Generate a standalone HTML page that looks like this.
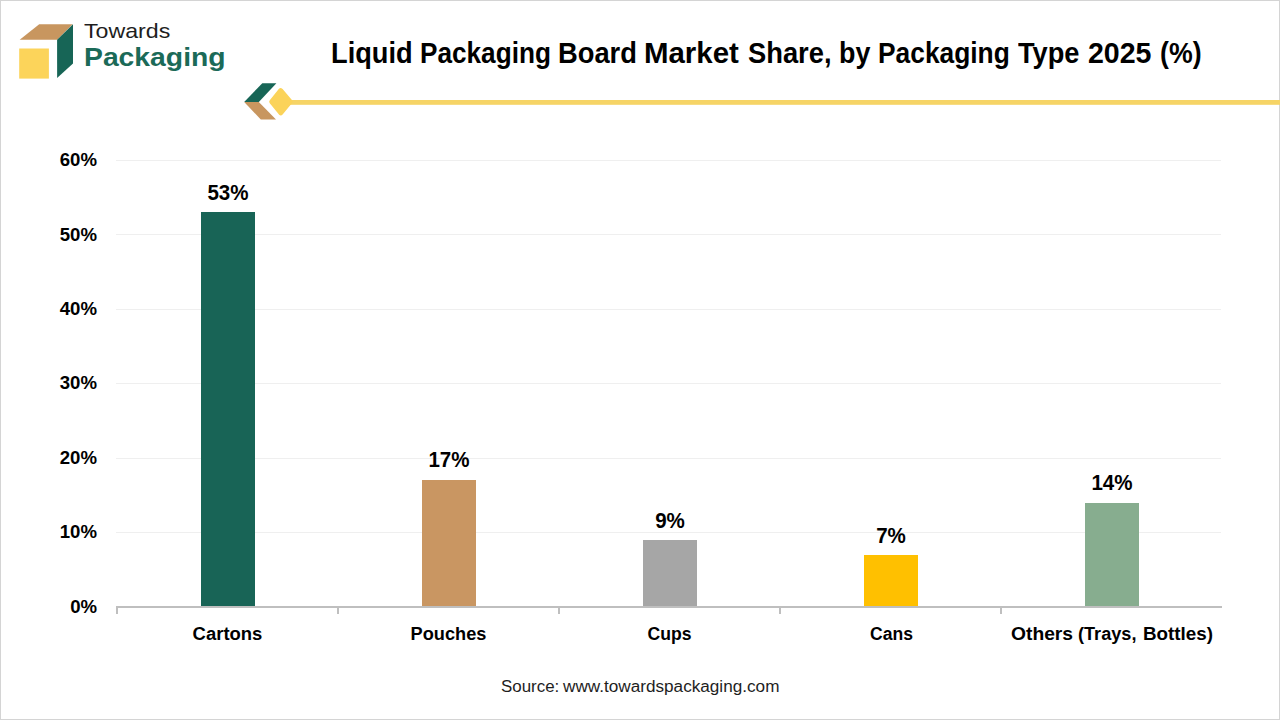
<!DOCTYPE html>
<html>
<head>
<meta charset="utf-8">
<style>
html,body{margin:0;padding:0;background:#fff;}
body{width:1280px;height:720px;position:relative;overflow:hidden;font-family:"Liberation Sans",sans-serif;}
.frame{position:absolute;left:0;top:0;width:1280px;height:720px;box-sizing:border-box;border:1px solid #d4d4d4;}
.t{position:absolute;white-space:nowrap;line-height:1;}
.grid{position:absolute;left:116px;width:1105px;height:1px;background:#efefef;}
.bar{position:absolute;width:54px;bottom:114px;}
.tick{position:absolute;top:608px;width:2px;height:6px;background:#bfbfbf;}
.yl{position:absolute;right:1183px;font-weight:bold;font-size:18.6px;line-height:1;color:#000;}
.dl{position:absolute;font-weight:bold;font-size:21.5px;line-height:1;color:#000;width:120px;text-align:center;transform:scaleX(0.955);}
.xl{position:absolute;font-weight:bold;font-size:18px;line-height:1;color:#000;width:221px;text-align:center;top:625px;}
.title{position:absolute;left:0;top:39px;margin:0;font-size:29px;font-weight:bold;line-height:1;color:#000;white-space:nowrap;}
.tw{position:absolute;top:0;transform-origin:0 0;}
.src{position:absolute;left:0;top:679px;margin:0;font-size:15.8px;line-height:1;color:#1e1e1e;white-space:nowrap;}
.xl2{position:absolute;left:0;top:625px;font-weight:bold;font-size:18px;line-height:1;color:#000;white-space:nowrap;}
</style>
</head>
<body>
<div class="frame"></div>

<!-- logo -->
<svg style="position:absolute;left:0;top:0" width="320" height="130" viewBox="0 0 320 130">
  <polygon points="39.2,24.2 72.7,24.2 57.1,39.8 19.7,39.8" fill="#c8965f"/>
  <polygon points="57.1,39.8 73,24.2 73,63.6 57.1,78" fill="#176556"/>
  <rect x="19.2" y="48.5" width="29.7" height="30.1" fill="#fcd45a"/>
  <!-- decorative -->
  <polygon points="262.3,83.2 276.4,83.2 258.8,102 244.2,102" fill="#176556"/>
  <polygon points="244.2,102 258.8,102 276,119.5 260.8,119.5" fill="#c8965f"/>
</svg>
<svg style="position:absolute;left:0;top:0" width="1280" height="130" viewBox="0 0 1280 130">
  <rect x="285" y="100" width="995" height="4.8" fill="#f6d466"/>
  <polygon points="280.7,90.6 290,101.7 280.7,112.8 271.7,101.7" fill="#fbd35a" stroke="#fbd35a" stroke-width="5" stroke-linejoin="round"/>
</svg>

<div class="t" style="left:83.9px;top:22.2px;font-size:19.8px;color:#1e1e1e;transform-origin:0 0;transform:scaleX(1.172);">Towards</div>
<div class="t" style="left:84.1px;top:45px;font-size:25.5px;font-weight:bold;color:#1b6a58;transform-origin:0 0;transform:scaleX(1.11);">Packaging</div>

<h1 class="title"><span class="tw" style="left:331.22px;transform:scaleX(0.9386)">Liquid</span> <span class="tw" style="left:420.40px;transform:scaleX(0.9021)">Packaging</span> <span class="tw" style="left:558.37px;transform:scaleX(0.9419)">Board</span> <span class="tw" style="left:644.47px;transform:scaleX(1.0143)">Market</span> <span class="tw" style="left:748.06px;transform:scaleX(0.9419)">Share,</span> <span class="tw" style="left:839.40px;transform:scaleX(0.9266)">by</span> <span class="tw" style="left:878.48px;transform:scaleX(0.9085)">Packaging</span> <span class="tw" style="left:1017.80px;transform:scaleX(0.9385)">Type</span> <span class="tw" style="left:1088.02px;transform:scaleX(0.9841)">2025</span> <span class="tw" style="left:1160.18px;transform:scaleX(0.9209)">(%)</span></h1>

<!-- grid -->
<div class="grid" style="top:160px"></div>
<div class="grid" style="top:234px"></div>
<div class="grid" style="top:309px"></div>
<div class="grid" style="top:383px"></div>
<div class="grid" style="top:458px"></div>
<div class="grid" style="top:532px"></div>

<!-- y labels -->
<div class="yl" style="top:151px">60%</div>
<div class="yl" style="top:226px">50%</div>
<div class="yl" style="top:300px">40%</div>
<div class="yl" style="top:374px">30%</div>
<div class="yl" style="top:449px">20%</div>
<div class="yl" style="top:523px">10%</div>
<div class="yl" style="top:598px">0%</div>

<!-- bars -->
<div class="bar" style="left:201px;top:212px;background:#186456"></div>
<div class="bar" style="left:422px;top:480px;background:#c99662"></div>
<div class="bar" style="left:643px;top:540px;background:#a6a6a6"></div>
<div class="bar" style="left:864px;top:555px;background:#ffc000"></div>
<div class="bar" style="left:1085px;top:503px;background:#87ad8f"></div>

<!-- axis -->
<div style="position:absolute;left:116px;top:606px;width:1106px;height:2px;background:#bfbfbf"></div>
<div class="tick" style="left:116px"></div>
<div class="tick" style="left:337px"></div>
<div class="tick" style="left:558px"></div>
<div class="tick" style="left:779px"></div>
<div class="tick" style="left:1000px"></div>

<!-- data labels -->
<div class="dl" style="left:168px;top:183px">53%</div>
<div class="dl" style="left:389px;top:450px">17%</div>
<div class="dl" style="left:610px;top:511px">9%</div>
<div class="dl" style="left:831px;top:526px">7%</div>
<div class="dl" style="left:1052px;top:473px">14%</div>

<!-- x labels -->
<div class="xl" style="left:117.3px;transform:scaleX(1.026)">Cartons</div>
<div class="xl" style="left:337.5px;transform:scaleX(1.01)">Pouches</div>
<div class="xl" style="left:559.3px;transform:scaleX(0.978)">Cups</div>
<div class="xl" style="left:780.7px;transform:scaleX(0.976)">Cans</div>
<div class="xl2"><span class="tw" style="left:1010.63px;transform:scaleX(1.0696)">Others</span> <span class="tw" style="left:1078.09px;transform:scaleX(1.0071)">(Trays,</span> <span class="tw" style="left:1142.66px;transform:scaleX(1.0446)">Bottles)</span></div>

<p class="src"><span class="tw" style="left:500.6px;transform:scaleX(1.0712)">Source:</span> <span class="tw" style="left:562.8px;transform:scaleX(1.0859)">www.towardspackaging.com</span></p>
</body>
</html>
